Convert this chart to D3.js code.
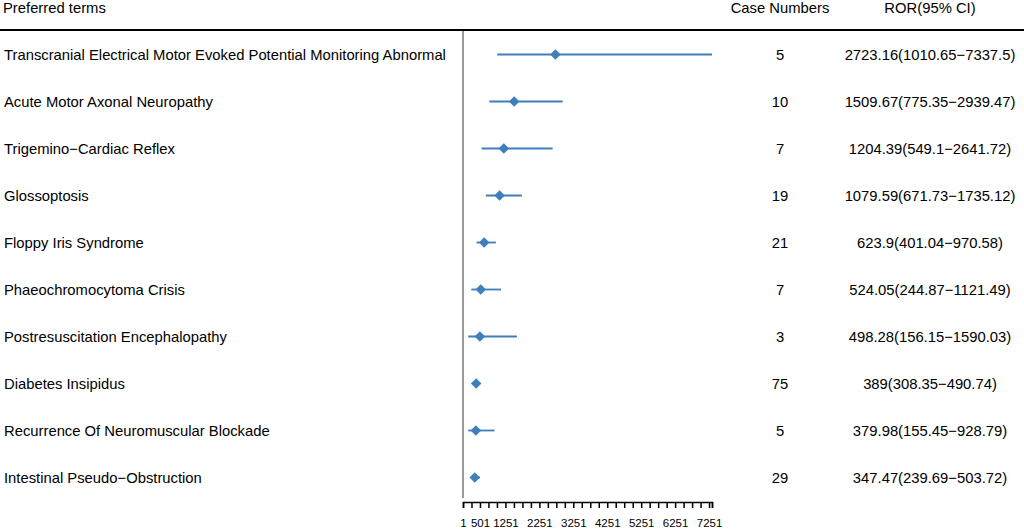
<!DOCTYPE html>
<html>
<head>
<meta charset="utf-8">
<script src="https://cdn.jsdelivr.net/npm/d3@7"></script>
<style>
body{margin:0;background:#fff;}
text{font-family:"Liberation Sans",Arial,sans-serif;fill:#000;}
</style>
</head>
<body>
<svg width="1024" height="529"></svg>
<script>
var terms=["Transcranial Electrical Motor Evoked Potential Monitoring Abnormal","Acute Motor Axonal Neuropathy","Trigemino\u2212Cardiac Reflex","Glossoptosis","Floppy Iris Syndrome","Phaeochromocytoma Crisis","Postresuscitation Encephalopathy","Diabetes Insipidus","Recurrence Of Neuromuscular Blockade","Intestinal Pseudo\u2212Obstruction"];
var cases=[5,10,7,19,21,7,3,75,5,29];
var ror=[2723.16,1509.67,1204.39,1079.59,623.9,524.05,498.28,389,379.98,347.47];
var lower=[1010.65,775.35,549.1,671.73,401.04,244.87,156.15,308.35,155.45,239.69];
var upper=[7337.5,2939.47,2641.72,1735.12,970.58,1121.49,1590.03,490.74,928.79,503.72];
var tickVals=d3.range(1,7252,250).concat([7337.5]);
var tickLabels=[1,501,1251,2251,3251,4251,5251,6251,7251];

var svg=d3.select("svg"),
    wth=+svg.attr("width");
var blue="#3f7fbb";
var fs="14.8px";

var x=d3.scaleLinear().domain([1,7337.5]).range([463,712]);
var y=d3.scaleBand().domain(d3.range(terms.length)).range([31,501]);
var fmt=function(v){return String(v);};

// header
svg.append("text").attr("x",3).attr("y",13).attr("font-size",fs).text("Preferred terms");
svg.append("text").attr("x",780).attr("y",13).attr("text-anchor","middle").attr("font-size",fs).text("Case Numbers");
svg.append("text").attr("x",930).attr("y",13).attr("text-anchor","middle").attr("font-size",fs).text("ROR(95% CI)");
svg.append("line").attr("x1",0).attr("x2",wth).attr("y1",30).attr("y2",30)
   .attr("stroke","#000").attr("stroke-width",2);

// reference line
svg.append("line").attr("x1",x(1)).attr("x2",x(1)).attr("y1",31).attr("y2",498)
   .attr("stroke","#7a7a7a").attr("stroke-width",1.5);

var rows=svg.selectAll("g.row").data(terms).enter().append("g").attr("class","row")
   .attr("transform",function(d,i){return "translate(0,"+(y(i)+y.bandwidth()/2)+")";});

rows.append("text").attr("x",4).attr("dy","0.35em").attr("font-size",fs).text(function(d){return d;});
rows.append("text").attr("x",780).attr("dy","0.35em").attr("text-anchor","middle").attr("font-size",fs)
   .text(function(d,i){return cases[i];});
rows.append("text").attr("x",930).attr("dy","0.35em").attr("text-anchor","middle").attr("font-size",fs)
   .text(function(d,i){return fmt(ror[i])+"("+fmt(lower[i])+"\u2212"+fmt(upper[i])+")";});

rows.append("line")
   .attr("x1",function(d,i){return x(lower[i]);})
   .attr("x2",function(d,i){return x(upper[i]);})
   .attr("stroke",blue).attr("stroke-width",1.8);
rows.append("path")
   .attr("d",d3.symbol().type(d3.symbolSquare).size(56))
   .attr("transform",function(d,i){return "translate("+x(ror[i])+",0) rotate(45)";})
   .attr("fill",blue);

// axis
var ax=svg.append("g").attr("transform","translate(0,502)")
   .call(d3.axisBottom(x).tickValues(tickVals).tickSizeOuter(0).tickSize(6)
     .tickFormat(function(d){return tickLabels.indexOf(d)>=0?d:"";}));
ax.select(".domain").attr("stroke","#000").attr("stroke-width",1.5);
ax.selectAll(".tick line").attr("stroke","#000").attr("stroke-width",1.5);
ax.selectAll(".tick text").attr("font-family","Liberation Sans, Arial, sans-serif")
   .attr("font-size","11.5px").attr("fill","#000").attr("dy","1.4em");
</script>
</body>
</html>
